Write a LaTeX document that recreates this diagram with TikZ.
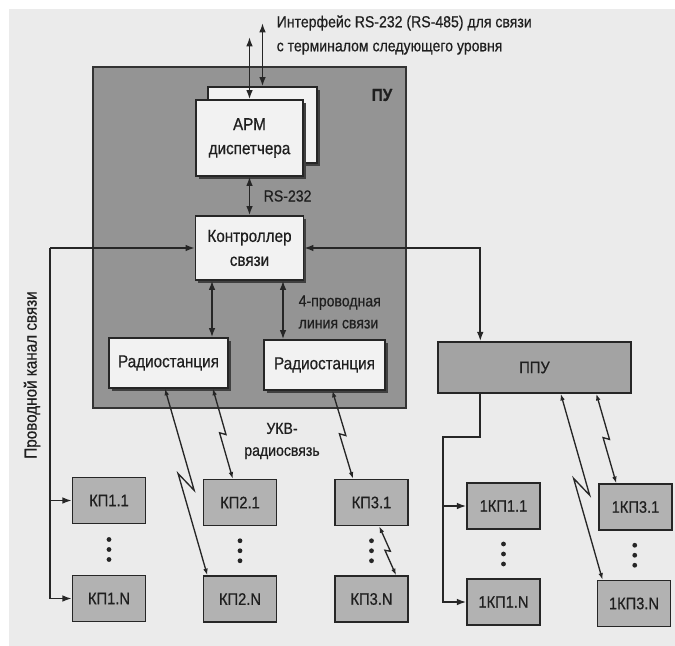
\documentclass[tikz,border=0pt]{standalone}
\usepackage{fontspec}
\setmainfont{Liberation Sans}[FakeStretch=0.88, FakeBold=0.6]
\usetikzlibrary{arrows.meta, positioning, calc, shadows}

\begin{document}
\begin{tikzpicture}[
    x=0.75pt, y=-0.75pt, >={Latex[length=7pt, width=5pt]},
    pubox/.style={draw=black!80, line width=1.6pt, fill=black!42,
        minimum width=234.75pt, minimum height=255.75pt, inner sep=0pt},
    wbox/.style={draw=black!85, line width=0.9pt, fill=black!5,
        inner sep=0pt, align=center, text=black!88,
        font=\fontsize{13}{18}\selectfont,
        drop shadow={shadow xshift=2.2pt, shadow yshift=-2.2pt,
            fill=black!75, opacity=1}},
    kpbox/.style={draw=black!85, line width=1.1pt, fill=black!30,
        minimum width=54.75pt, minimum height=34.5pt, inner sep=0pt,
        text=black!88, font=\fontsize{12.5}{15}\selectfont},
    lbl/.style={font=\fontsize{12}{16.5}\selectfont, text=black!88},
    wire/.style={->, draw=black!85, line width=1.3pt},
    biwire/.style={<->, draw=black!85, line width=1.3pt},
    radio/.style 2 args={{Latex[length=5pt, width=3.5pt]}-{Latex[length=5pt, width=3.5pt]},
        line width=1pt, draw=black!85,
        to path={-- ($(\tikztostart)!0.5!(\tikztotarget)!#1!(\tikztotarget)!#2!90:(\tikztotarget)$)
            -- ($(\tikztostart)!0.5!(\tikztotarget)!#1!(\tikztostart)!#2!90:(\tikztostart)$)
            -- (\tikztotarget)}},
]
\useasboundingbox (0,0) rectangle (675,646);
\fill[black!8] (9,9) rectangle (675,646);

%% ===== ПУ =====
\node[pubox] (pu) at (249.5,237.5) {};
\node[font=\bfseries\fontsize{13}{15}\selectfont, text=black!88] (pulbl) at (382,95) {ПУ};
\node[wbox, minimum width=81.75pt, minimum height=57pt] (armb) at (262.5,125) {};
\node[wbox, minimum width=80.25pt, minimum height=57pt] (arm) at (249.5,138) {АРМ\\диспетчера};
\node[wbox, minimum width=81pt, minimum height=48pt] (ctrl) at (249.5,248) {Контроллер\\связи};
\node[wbox, minimum width=89.25pt, minimum height=37.5pt] (rs1) at (168.5,363) {Радиостанция};
\node[wbox, minimum width=90.75pt, minimum height=37.5pt] (rs2) at (324.5,365) {Радиостанция};

%% ===== ППУ =====
\node[kpbox, fill=black!36, minimum width=144.75pt, minimum height=38.25pt] (ppu) at (534.5,367.5) {ППУ};

%% ===== КП =====
\node[kpbox] (kp1-1) at (109,500.5) {КП1.1};
\node[kpbox] (kp1-N) at (109,598.5) {КП1.N};
\node[kpbox] (kp2-1) at (240,502.5) {КП2.1};
\node[kpbox] (kp2-N) at (240,599) {КП2.N};
\node[kpbox] (kp3-1) at (371.5,502.5) {КП3.1};
\node[kpbox] (kp3-N) at (371.5,599) {КП3.N};
\node[kpbox] (pkp1-1) at (503.5,506) {1КП1.1};
\node[kpbox] (pkp1-N) at (503.5,602) {1КП1.N};
\node[kpbox] (pkp3-1) at (635.5,507) {1КП3.1};
\node[kpbox] (pkp3-N) at (634,603.5) {1КП3.N};

\foreach \n in {kp1,kp2,kp3,pkp1,pkp3}
    \foreach \d in {-10,0,10}
        \fill[black!85] ($(\n-1)!0.5!(\n-N)$) ++(0,\d) circle (2.4);

%% ===== interface to next level =====
\coordinate (ifc1) at (249.5,37);
\coordinate (ifc2) at (262.5,23);
\draw[biwire] (ifc1) -- (arm.north);
\draw[biwire] (ifc2) -- (armb.north);
\node[lbl, anchor=west, align=left, font=\fontsize{12}{18}\selectfont] (ifclbl) at (272,35)
    {Интерфейс RS-232 (RS-485) для связи\\с терминалом следующего уровня};

%% ===== inside ПУ =====
\draw[biwire] (arm.south) -- (ctrl.north);
\node[lbl, anchor=west] (rslbl) at (259,196) {RS-232};
\coordinate (c1) at ($(ctrl.south)+(-37.5,0)$);
\coordinate (c2) at ($(ctrl.south)+(33.5,0)$);
\draw[biwire] (c1) -- (c1 |- rs1.north);
\draw[biwire] (c2) -- (c2 |- rs2.north);
\node[lbl, anchor=west, align=left] (linelbl) at (294,312) {4-проводная\\линия связи};

%% ===== wired channel =====
\coordinate (wl) at (50,248);
\draw[wire] (wl) -- (ctrl.west);
\draw[wire] (wl) |- (kp1-N.west);
\draw[wire] (wl |- kp1-1.west) -- (kp1-1.west);
\node[lbl, rotate=90, font=\fontsize{13}{15}\selectfont] (wirelbl) at (32,375) {Проводной канал связи};

\coordinate (pt) at ($(ppu.north west)+(43,0)$);
\draw[biwire] (ctrl.east) -| (pt);
\coordinate (pb) at ($(ppu.south west)+(43,0)$);
\coordinate (pk) at (443,437);
\draw[wire] (pb) |- (pk) |- (pkp1-N.west);
\draw[wire] (pk |- pkp1-1.west) -- (pkp1-1.west);

%% ===== VHF radio links =====
\draw[radio={7.5pt}{4.5pt}] (rs1.-98) to (kp2-N.144);
\draw[radio={1.2pt}{2.2pt}] (rs1.-30) to (kp2-1.107);
\draw[radio={1.2pt}{2.2pt}] (rs2.-73) to (kp3-1.128);
\draw[radio={1pt}{1.8pt}] (kp3-1.-72) to (kp3-N.44);
\draw[radio={7.5pt}{4.5pt}] (ppu.-45) to (pkp3-N.143);
\draw[radio={1.2pt}{2.2pt}] (ppu.-23.5) to (pkp3-1.129);
\node[lbl, align=center] (vhflbl) at (282,441) {УКВ-\\радиосвязь};
\end{tikzpicture}
\end{document}
